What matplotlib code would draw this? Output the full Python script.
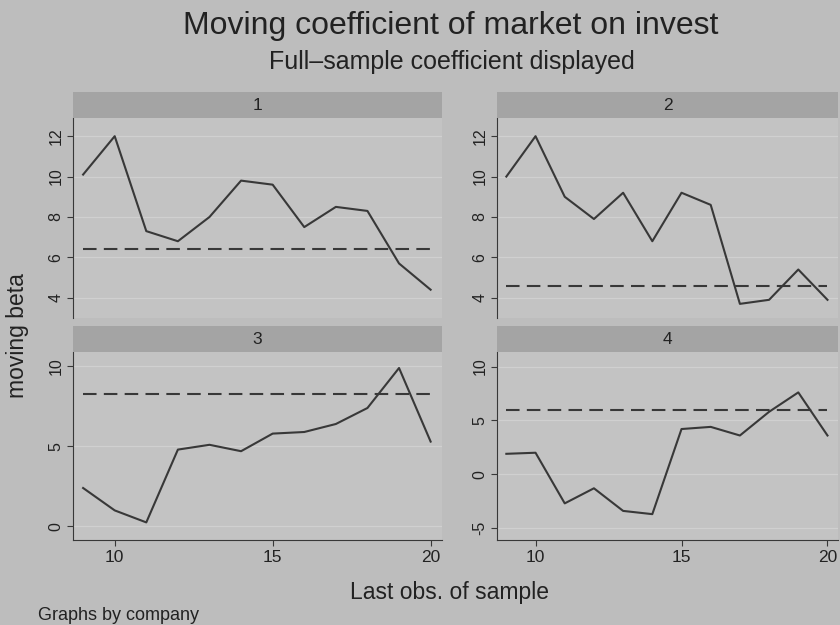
import matplotlib.pyplot as plt

# Data
obs = [9, 10, 11, 12, 13, 14, 15, 16, 17, 18, 19, 20]
companies = ["1", "2", "3", "4"]
beta_1 = [10.1, 12.0, 7.3, 6.8, 8.0, 9.8, 9.6, 7.5, 8.5, 8.3, 5.7, 4.4]
beta_2 = [10.0, 12.0, 9.0, 7.9, 9.2, 6.8, 9.2, 8.6, 3.7, 3.9, 5.4, 3.9]
beta_3 = [2.4, 1.0, 0.25, 4.8, 5.1, 4.7, 5.8, 5.9, 6.4, 7.4, 9.9, 5.3]
beta_4 = [1.9, 2.0, -2.7, -1.3, -3.4, -3.7, 4.2, 4.4, 3.6, 5.8, 7.6, 3.6]
full_sample = [6.4, 4.6, 8.3, 6.0]
yticks_list = [[4, 6, 8, 10, 12], [4, 6, 8, 10, 12], [0, 5, 10], [-5, 0, 5, 10]]
ylims = [(3.0, 12.9), (3.0, 12.9), (-0.85, 10.9), (-6.1, 11.35)]
xticks = [10, 15, 20]

BG = '#bdbdbd'
PLOT_BG = '#c3c3c3'
STRIP = '#a4a4a4'
LINE = '#383838'
GRID = '#d0d0d0'
TEXT = '#222222'

series = [beta_1, beta_2, beta_3, beta_4]

fig = plt.figure(figsize=(8.4, 6.25), dpi=100, facecolor=BG)
plt.rcParams['font.family'] = ['Liberation Sans', 'DejaVu Sans']

# panel boxes in figure fractions: left, bottom, width, height (plot area only)
boxes = [
    (73 / 840, 1 - 318 / 625, 369 / 840, 200 / 625),
    (497 / 840, 1 - 318 / 625, 341 / 840, 200 / 625),
    (73 / 840, 1 - 540 / 625, 369 / 840, 188 / 625),
    (497 / 840, 1 - 540 / 625, 341 / 840, 188 / 625),
]
strip_h = 26 / 625

for i, (name, vals) in enumerate(zip(companies, series)):
    l, b, w, h = boxes[i]
    ax = fig.add_axes([l, b, w, h], facecolor=PLOT_BG)
    ax.plot(obs, vals, color=LINE, linewidth=1.5)
    ax.plot([obs[0], obs[-1]], [full_sample[i]] * 2, color=LINE,
            linewidth=1.5, linestyle=(0, (6.5, 3.5)))
    ax.set_xlim(8.68, 20.36)
    ax.set_ylim(*ylims[i])
    ax.set_yticks(yticks_list[i])
    ax.set_yticklabels([str(t) for t in yticks_list[i]], rotation=90,
                       va='center', fontsize=11.5, color=TEXT)
    for t in yticks_list[i]:
        ax.axhline(t, color=GRID, linewidth=0.9, zorder=0)
    for side in ['top', 'right']:
        ax.spines[side].set_visible(False)
    ax.spines['left'].set_color(LINE)
    ax.tick_params(axis='y', length=4, color=LINE, pad=3)
    if i < 2:
        ax.spines['bottom'].set_visible(False)
        ax.set_xticks([])
    else:
        ax.spines['bottom'].set_color(LINE)
        ax.set_xticks(xticks)
        ax.set_xticklabels([str(t) for t in xticks], fontsize=12.5, color=TEXT)
        ax.tick_params(axis='x', length=4, color=LINE, pad=3)

    # strip heading
    sax = fig.add_axes([l, b + h, w, strip_h], facecolor=STRIP)
    sax.set_xticks([])
    sax.set_yticks([])
    for s in sax.spines.values():
        s.set_visible(False)
    sax.text(0.5, 0.5, name, ha='center', va='center', fontsize=12.5,
             color=TEXT, transform=sax.transAxes)

fig.text(451 / 840, 1 - 26 / 625, 'Moving coefficient of market on invest',
         ha='center', va='center', fontsize=23, color=TEXT)
fig.text(452 / 840, 1 - 62 / 625, 'Full\u2013sample coefficient displayed',
         ha='center', va='center', fontsize=18, color=TEXT)
fig.text(450 / 840, 1 - 592 / 625, 'Last obs. of sample', ha='center',
         va='center', fontsize=16.5, color=TEXT)
fig.text(18 / 840, 1 - 336 / 625, 'moving beta', ha='center', va='center',
         rotation=90, fontsize=16.5, color=TEXT)
fig.text(38 / 840, 1 - 615 / 625, 'Graphs by company', ha='left',
         va='center', fontsize=13, color=TEXT)

fig.savefig('out.png', dpi=100, facecolor=BG)
